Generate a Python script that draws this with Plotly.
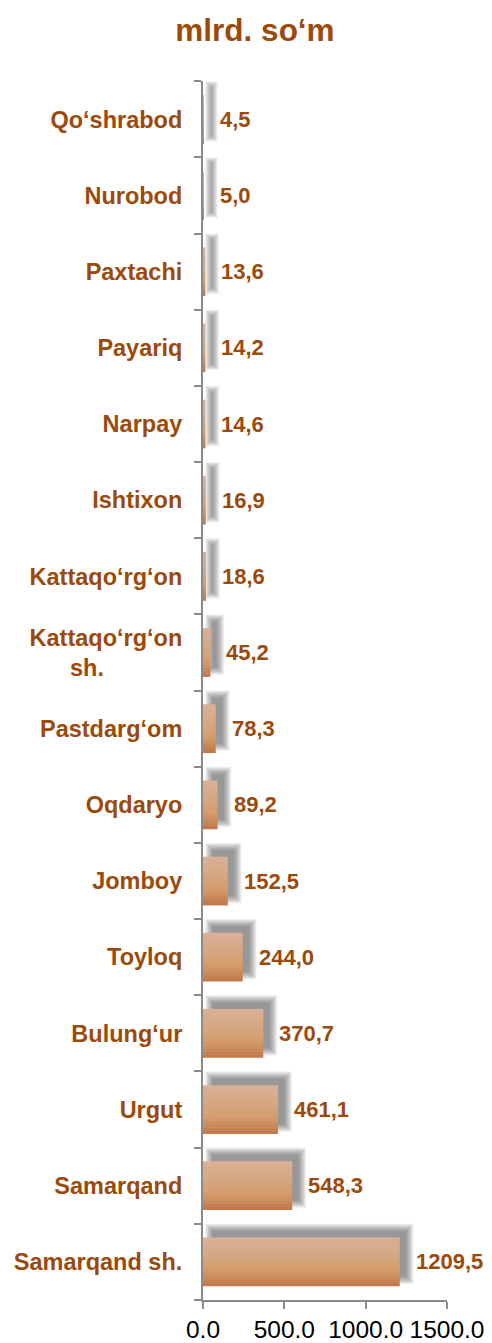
import plotly.graph_objects as go

# Data (top to bottom as shown)
categories = ["Qo‘shrabod", "Nurobod", "Paxtachi", "Payariq", "Narpay", "Ishtixon",
              "Kattaqo‘rg‘on", "Kattaqo‘rg‘on sh.", "Pastdarg‘om", "Oqdaryo", "Jomboy",
              "Toyloq", "Bulung‘ur", "Urgut", "Samarqand", "Samarqand sh."]
values = [4.5, 5.0, 13.6, 14.2, 14.6, 16.9, 18.6, 45.2, 78.3, 89.2, 152.5,
          244.0, 370.7, 461.1, 548.3, 1209.5]
value_labels = ["4,5", "5,0", "13,6", "14,2", "14,6", "16,9", "18,6", "45,2", "78,3",
                "89,2", "152,5", "244,0", "370,7", "461,1", "548,3", "1209,5"]
tick_values = [0, 500, 1000, 1500]
title_text = "mlrd. so‘m"

BROWN = "#9C4A0B"
W, H = 492, 1343
ML, MR, MT, MB = 203, 45, 81, 43
XMAX = 1500
ux = XMAX / (W - ML - MR)          # data units per pixel (x)
uy = len(categories) / (H - MT - MB)  # category units per pixel (y)

BAR_W = 0.64

def disp(c):
    if c == "Kattaqo‘rg‘on sh.":
        return "Kattaqo‘rg‘on<br>sh." + "\u00a0" * 12
    return c

ycats = [disp(c) for c in categories]

fig = go.Figure()

# soft shadow layers
dx, dy = 8, 8
for k in range(17):
    e = 6 - 0.5 * k
    fig.add_trace(go.Bar(
        orientation="h", y=ycats,
        x=[max(v + 2 * e * ux, 0) for v in values],
        base=[(dx - e) * ux for _ in values],
        width=max(BAR_W + 2 * e * uy, 0.01),
        offset=-BAR_W / 2 + (dy - e) * uy,
        marker=dict(color="rgba(60,60,60,0.045)", line=dict(width=0)),
        hoverinfo="skip", showlegend=False))

# gradient bar bands
stops = [(0.0, (192, 118, 74)), (0.35, (213, 158, 108)), (0.55, (213, 165, 125)), (1.0, (218, 177, 152))]
def col(t):
    for (t0, c0), (t1, c1) in zip(stops[:-1], stops[1:]):
        if t0 <= t <= t1:
            f = (t - t0) / (t1 - t0) if t1 > t0 else 0
            return "rgb(%d,%d,%d)" % tuple(round(c0[k] + (c1[k] - c0[k]) * f) for k in range(3))
    return "rgb(%d,%d,%d)" % stops[-1][1]

N = 16
bw = BAR_W / N
for i in range(N):
    t = (i + 0.5) / N
    fig.add_trace(go.Bar(
        orientation="h", y=ycats, x=values,
        width=bw * 1.15 if i < N - 1 else bw,
        offset=-BAR_W / 2 + i * bw,
        marker=dict(color=col(t), line=dict(width=0)),
        hoverinfo="skip", showlegend=False))

for yc, v, lab in zip(ycats, values, value_labels):
    fig.add_annotation(x=v, y=yc, text=lab, showarrow=False, xanchor="left",
                       xshift=14, font=dict(family="Liberation Sans", size=22,
                                            color=BROWN, weight="bold"))

fig.update_layout(
    width=W, height=H, barmode="overlay",
    margin=dict(l=ML, r=MR, t=MT, b=MB, autoexpand=False),
    plot_bgcolor="white", paper_bgcolor="white",
    title=dict(text=title_text, x=255 / W, xanchor="center", y=1 - 30 / H,
               yanchor="middle", yref="container",
               font=dict(family="Liberation Sans", size=31.5, color=BROWN, weight="bold")),
    xaxis=dict(range=[0, XMAX], tickvals=tick_values, tickformat=".1f",
               showgrid=False, zeroline=False, showline=True, linecolor="#8a8a8a",
               linewidth=2, ticks="outside", ticklen=7, tickwidth=2, tickcolor="#8a8a8a",
               tickfont=dict(family="Liberation Sans", size=24.5, color="black"),
               automargin=False),
    yaxis=dict(categoryorder="array", categoryarray=ycats[::-1], type="category",
               showgrid=False, zeroline=False, showline=True, linecolor="#8a8a8a",
               linewidth=2, ticks="outside", tickson="boundaries", ticklen=7,
               tickwidth=2, tickcolor="#8a8a8a", ticklabelstandoff=14,
               tickfont=dict(family="Liberation Sans", size=23.5, color=BROWN, weight="bold"),
               automargin=False),
)

fig.write_html("out.html", config={"displayModeBar": False},
               post_script="document.body.style.margin='0';document.body.style.overflow='hidden';")
